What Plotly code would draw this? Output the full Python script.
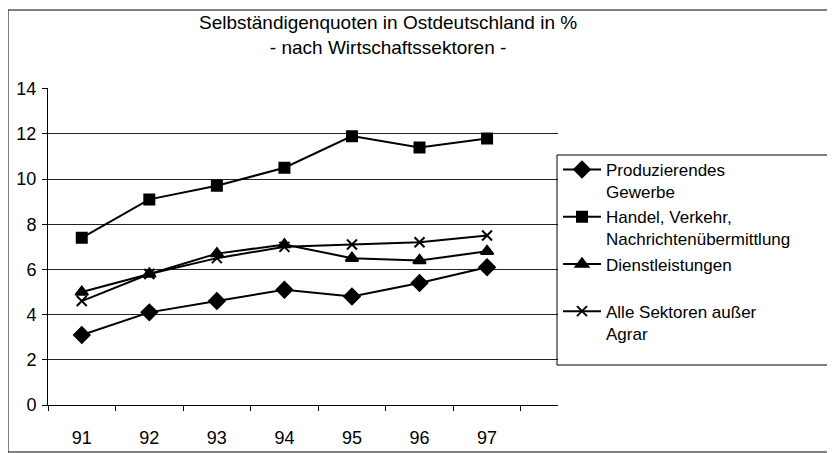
import plotly.graph_objects as go

years = ["91", "92", "93", "94", "95", "96", "97"]
produzierendes = [3.1, 4.1, 4.6, 5.1, 4.8, 5.4, 6.1]
handel = [7.4, 9.1, 9.7, 10.5, 11.9, 11.4, 11.8]
dienst = [5.0, 5.8, 6.7, 7.1, 6.5, 6.4, 6.8]
alle = [4.6, 5.8, 6.5, 7.0, 7.1, 7.2, 7.5]
y_ticks = [0, 2, 4, 6, 8, 10, 12, 14]

names = [
    "Produzierendes<br>Gewerbe",
    "Handel, Verkehr,<br>Nachrichtenübermittlung",
    "Dienstleistungen<br> ",
    "Alle Sektoren außer<br>Agrar",
]
series = [produzierendes, handel, dienst, alle]
symbols = ["diamond", "square", "triangle-up", "x-thin-open"]
sizes = [12, 10, 11, 10]

FONT = "Liberation Sans, Arial, sans-serif"
OFF = 8  # page body margin offset
W, H = 835, 453
L, R, T, B = 48 - OFF, 558 - OFF, 88 - OFF, 405 - OFF  # plot area (figure px)
PW, PH = R - L, B - T


def px(x):
    return (x - OFF - L) / PW


def py(y):
    return (B - (y - OFF)) / PH


fig = go.Figure()
for name, vals, sym, sz in zip(names, series, symbols, sizes):
    fig.add_trace(go.Scatter(
        x=years, y=vals, name=name, mode="lines+markers",
        line=dict(color="black", width=2),
        marker=dict(symbol=sym, size=sz, color="black",
                    line=dict(color="black", width=2)),
    ))

fig.update_layout(
    width=W, height=H,
    margin=dict(l=L, r=W - R, t=T, b=H - B),
    paper_bgcolor="white", plot_bgcolor="white",
    font=dict(family=FONT, color="black", size=17),
    legend=dict(
        x=px(558), xanchor="left",
        y=py(152), yanchor="top",
        borderwidth=0, bgcolor="rgba(0,0,0,0)",
        font=dict(family=FONT, size=17, color="black"),
        valign="top", traceorder="normal", itemwidth=38,
    ),
    showlegend=True,
    annotations=[dict(
        text="Selbständigenquoten in Ostdeutschland in %<br>- nach Wirtschaftssektoren -",
        xref="paper", yref="paper",
        x=px(388), xanchor="center",
        y=py(10), yanchor="top",
        showarrow=False, align="center",
        font=dict(family=FONT, size=19, color="black"),
    )],
)
fig.update_xaxes(
    type="category", range=[-0.5, 7.05], automargin=False,
    showgrid=False, showline=True, linecolor="black", linewidth=1,
    ticks="outside", tickson="boundaries", ticklen=5, tickcolor="black",
    ticklabelstandoff=16,
    tickfont=dict(family=FONT, size=18, color="black"),
)
fig.update_yaxes(
    range=[0, 14.03], tickvals=y_ticks, automargin=False,
    showgrid=True, gridcolor="#222", gridwidth=1,
    zeroline=False, showline=True, linecolor="black", linewidth=1,
    ticks="outside", ticklen=5, tickcolor="black",
    ticklabelstandoff=2,
    tickfont=dict(family=FONT, size=18, color="black"),
)
# outer chart border
fig.add_shape(
    type="rect", xref="paper", yref="paper",
    x0=px(8), x1=px(833),
    y0=py(452), y1=py(10),
    line=dict(color="black", width=1), fillcolor="rgba(0,0,0,0)",
)
# legend box
fig.add_shape(
    type="rect", xref="paper", yref="paper",
    x0=px(557), x1=px(833),
    y0=py(365), y1=py(155),
    line=dict(color="black", width=1), fillcolor="rgba(0,0,0,0)",
)
fig.write_html("out.html")
